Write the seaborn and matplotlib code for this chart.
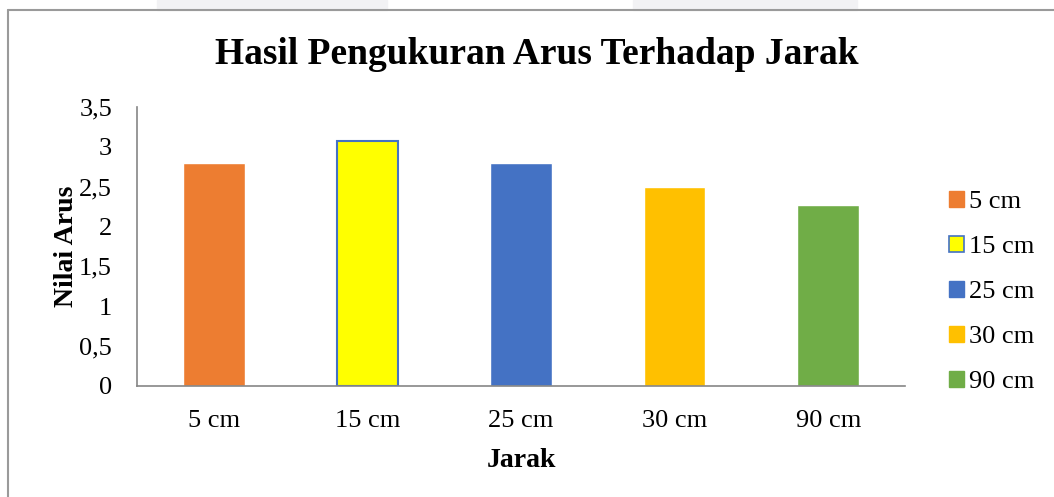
import matplotlib
matplotlib.use('Agg')
import matplotlib.pyplot as plt
from matplotlib.patches import Patch, Rectangle
from matplotlib.lines import Line2D
import seaborn as sns

# data
jarak = ['5 cm', '15 cm', '25 cm', '30 cm', '90 cm']
nilai_arus = [2.80, 3.07, 2.80, 2.50, 2.27]
warna = ['#ED7D31', '#FFFF00', '#4472C4', '#FFC000', '#70AD47']
y_ticks = [0, 0.5, 1, 1.5, 2, 2.5, 3, 3.5]
y_tick_labels = ['0', '0,5', '1', '1,5', '2', '2,5', '3', '3,5']

sns.set_style('white')
plt.rcParams['font.family'] = ['Liberation Serif', 'DejaVu Serif']
plt.rcParams['text.color'] = 'black'
plt.rcParams['axes.labelcolor'] = 'black'
plt.rcParams['xtick.color'] = 'black'
plt.rcParams['ytick.color'] = 'black'

fig = plt.figure(figsize=(10.54, 4.97), dpi=100)
W, H = 1054, 497

# faint page background blocks and the chart border
for x0, x1 in [(157, 387), (633, 857)]:
    fig.patches.append(Rectangle((x0 / W, 1 - 10 / H), (x1 - x0) / W, 10 / H,
                                 transform=fig.transFigure, color='#F2F2F4', zorder=0))
fig.add_artist(Line2D([8 / W, 1], [1 - 10 / H, 1 - 10 / H], transform=fig.transFigure,
                      color='#9A9A9A', lw=1.5))
fig.add_artist(Line2D([8 / W, 8 / W], [0, 1 - 10 / H], transform=fig.transFigure,
                      color='#9A9A9A', lw=1.5))

ax = fig.add_axes([137 / W, (H - 386) / H, (905 - 137) / W, (386 - 107) / H])

sns.barplot(x=jarak, y=nilai_arus, hue=jarak, palette=warna, width=0.4,
            legend=False, ax=ax, saturation=1)

# the 15 cm bar has a blue outline
for p in ax.patches:
    if abs(p.get_height() - nilai_arus[1]) < 1e-9:
        p.set_edgecolor('#4472C4')
        p.set_linewidth(1.5)

ax.set_ylim(0, 3.5)
ax.set_xlim(-0.5, len(jarak) - 0.5)
ax.set_yticks(y_ticks)
ax.set_yticklabels(y_tick_labels)
ax.tick_params(axis='y', length=7, color='#868686', width=1, labelcolor='black',
               labelsize=19, pad=11)
ax.tick_params(axis='x', length=0, labelsize=19, labelcolor='black', pad=17)

for s in ['top', 'right']:
    ax.spines[s].set_visible(False)
for s in ['left', 'bottom']:
    ax.spines[s].set_color('#868686')
    ax.spines[s].set_linewidth(1.2)

ax.set_xlabel('Jarak', fontsize=20, fontweight='bold', labelpad=12)
ax.set_ylabel('Nilai Arus', fontsize=20, fontweight='bold', labelpad=0)

fig.text(537 / W, 1 - 55 / H, 'Hasil Pengukuran Arus Terhadap Jarak',
         ha='center', va='center', fontsize=27, fontweight='bold')

handles = []
for j, c in zip(jarak, warna):
    if j == '15 cm':
        handles.append(Patch(facecolor=c, edgecolor='#4472C4', linewidth=1.2, label=j))
    else:
        handles.append(Patch(facecolor=c, edgecolor=c, label=j))
fig.legend(handles=handles, loc='center left', bbox_to_anchor=(936 / W, 1 - 292 / H),
           frameon=False, fontsize=19, handlelength=0.55, handleheight=0.55,
           handletextpad=0.2, labelspacing=0.86, borderpad=0)

fig.savefig('out.png', dpi=100)
